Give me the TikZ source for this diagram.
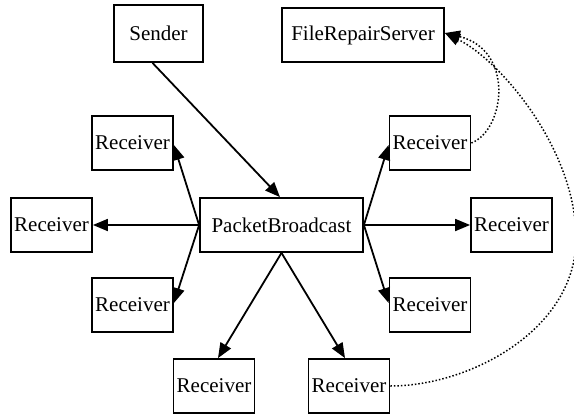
\documentclass[tikz,border=0pt]{standalone}
\usepackage{fontspec}
\setmainfont{Liberation Serif}
\newfontfamily\tnrfont{Liberation Serif}
\usetikzlibrary{arrows.meta}
\begin{document}
\begin{tikzpicture}[x=1pt,y=-1pt,
  box/.style={draw, line width=1.8pt, inner sep=0pt, minimum width=81pt, minimum height=54pt, font=\tnrfont\fontsize{21}{25}\selectfont},
  edge/.style={line width=1.8pt, -{Triangle[length=15pt,width=12pt]}},
  dotedge/.style={line width=1.5pt, dotted, -{Triangle[length=15pt,width=12pt]}}]
\useasboundingbox (0,0) rectangle (574,416);
\node[box, minimum width=89pt, minimum height=57pt] (s) at (158.5,33.5) {Sender};
\node[box, minimum width=162pt] (f) at (363,35) {FileRepairServer};
\node[box, minimum width=163pt] (pb) at (281.5,225) {PacketBroadcast};
\node[box] (ul) at (132.5,143) {Receiver};
\node[box] (l) at (51.5,225) {Receiver};
\node[box] (ll) at (132.5,305) {Receiver};
\node[box] (ur) at (430,143) {Receiver};
\node[box] (r) at (511.5,225) {Receiver};
\node[box] (lr) at (430,305) {Receiver};
\node[box] (bl) at (214,386) {Receiver};
\node[box] (br) at (349,386) {Receiver};
\draw[edge] ([xshift=-6pt]s.south) -- ([xshift=-1.5pt]pb.north);
\draw[edge] (pb.west) -- ([yshift=-2pt]ul.east);
\draw[edge] (pb.west) -- (l.east);
\draw[edge] (pb.west) -- ([yshift=2pt]ll.east);
\draw[edge] (pb.east) -- ([yshift=-2pt]ur.west);
\draw[edge] (pb.east) -- (r.west);
\draw[edge] (pb.east) -- ([yshift=2pt]lr.west);
\draw[edge] (pb.south) -- ([xshift=4pt]bl.north);
\draw[edge] (pb.south) -- ([xshift=-4pt]br.north);
\draw[dotedge] (ur.east) .. controls (505,130) and (515,50) .. ([yshift=2pt]f.east);
\coordinate (c1) at (576,240);
\draw[dotedge] (br.east) .. controls (470,386) and (575,330) .. (c1) .. controls (577,150) and (500,60) .. ([yshift=2pt]f.east);
\end{tikzpicture}
\end{document}
